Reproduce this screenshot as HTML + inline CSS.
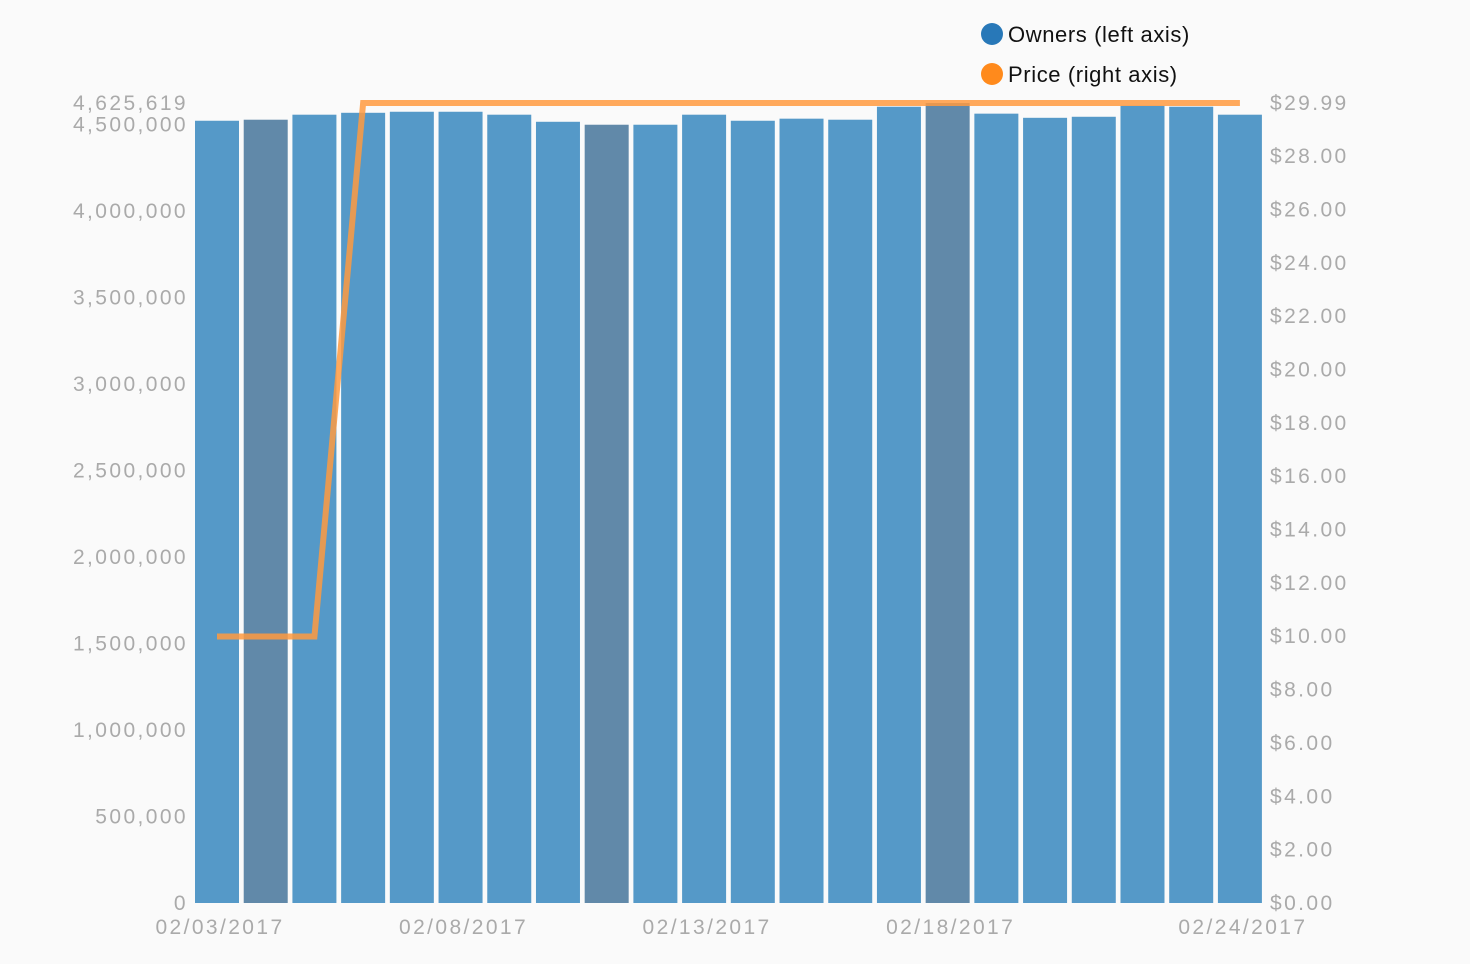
<!DOCTYPE html>
<html><head><meta charset="utf-8">
<style>
body{margin:0;background:#fafafa;font-family:"Liberation Sans",sans-serif;}
svg{display:block}
.t{fill:#aaa;font-size:21px;letter-spacing:2.4px;}
.lg{fill:#111;font-size:22px;letter-spacing:0.6px;}
</style></head>
<body>
<svg id="chart" width="1470" height="964">
<g id="legend">
<g><circle cx="992" cy="34" r="11" fill="#2878b8"/><text class="lg" x="1008" y="42">Owners (left axis)</text></g>
<g><circle cx="992" cy="74" r="11" fill="#ff8a1c"/><text class="lg" x="1008" y="82">Price (right axis)</text></g>
</g>
<g id="bars"></g><g id="line"></g><g id="axes"></g>
</svg>
<script>
const dates=["02/03","02/04","02/05","02/06","02/07","02/08","02/09","02/10","02/11","02/12","02/13","02/14","02/15","02/16","02/17","02/18","02/19","02/20","02/21","02/22","02/23","02/24"];
const owners=[4523000,4529000,4558000,4569000,4575000,4575000,4558000,4517000,4500000,4500000,4558000,4523000,4535000,4529000,4604000,4625619,4564000,4540000,4546000,4610000,4604000,4558000];
const price=[9.99,9.99,9.99,29.99,29.99,29.99,29.99,29.99,29.99,29.99,29.99,29.99,29.99,29.99,29.99,29.99,29.99,29.99,29.99,29.99,29.99,29.99];
const weekend=[false,true,false,false,false,false,false,false,true,false,false,false,false,false,false,true,false,false,false,false,false,false];
const leftTicks=[0,500000,1000000,1500000,2000000,2500000,3000000,3500000,4000000,4500000];
const rightTicks=[0,2,4,6,8,10,12,14,16,18,20,22,24,26,28];
const xLabelIdx=[0,5,10,15,21];
const NS="http://www.w3.org/2000/svg";
const y0=903,yTop=103,maxO=4625619,maxP=29.99;
const yL=v=>y0-v/maxO*(y0-yTop);
const yR=v=>y0-v/maxP*(y0-yTop);
const step=48.71,bw=44;
const xc=i=>217+i*step;
function mk(t,a,p){const e=document.createElementNS(NS,t);for(const k in a)e.setAttribute(k,a[k]);p.appendChild(e);return e;}
const bars=document.getElementById('bars'),line=document.getElementById('line'),axes=document.getElementById('axes');
owners.forEach((v,i)=>{const r=mk('rect',{x:xc(i)-bw/2,y:yL(v),width:bw,height:y0-yL(v),fill:weekend[i]?'#6189a9':'#5599c8'},bars);

});
const pts=price.map((v,i)=>xc(i)+','+yR(v)).join(' ');
const pl=mk('polyline',{points:pts,fill:'none',stroke:'#ff9a40','stroke-opacity':0.85,'stroke-width':6},line);


leftTicks.forEach(v=>{const t=mk('text',{class:'t',x:188,y:yL(v)+7,'text-anchor':'end'},axes);t.textContent=v.toLocaleString('en-US');

});
const mt=mk('text',{class:'t',x:188,y:yTop+7,'text-anchor':'end'},axes);mt.textContent=maxO.toLocaleString('en-US');


rightTicks.forEach(v=>{const t=mk('text',{class:'t',x:1270,y:yR(v)+7},axes);t.textContent='$'+v.toFixed(2);

});
const rt=mk('text',{class:'t',x:1270,y:yTop+7},axes);rt.textContent='$'+maxP.toFixed(2);


xLabelIdx.forEach(i=>{const t=mk('text',{class:'t',x:xc(i)+3,y:934,'text-anchor':'middle'},axes);t.textContent=dates[i]+'/2017';

});
</script>
</body></html>
